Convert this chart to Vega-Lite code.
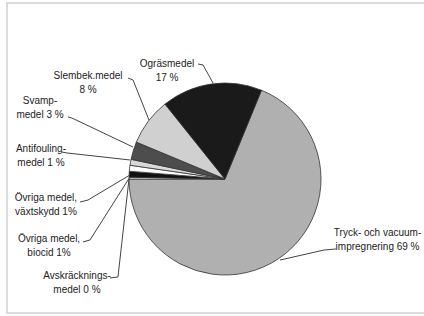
{
  "$schema": "https://vega.github.io/schema/vega-lite/v6.json",
  "width": 424,
  "height": 316,
  "padding": 0,
  "autosize": {"type": "none"},
  "background": "white",
  "view": {"stroke": null},
  "config": {"font": "Liberation Sans"},
  "datasets": {
    "slices": [
      {"idx": 1, "category": "Tryck- och vacuumimpregnering", "share": 69},
      {"idx": 2, "category": "Avskräckningsmedel", "share": 0.3},
      {"idx": 3, "category": "Övriga medel, biocid", "share": 1},
      {"idx": 4, "category": "Övriga medel, växtskydd", "share": 1},
      {"idx": 5, "category": "Antifoulingmedel", "share": 1},
      {"idx": 6, "category": "Svampmedel", "share": 3},
      {"idx": 7, "category": "Slembekämpningsmedel", "share": 8},
      {"idx": 8, "category": "Ogräsmedel", "share": 17}
    ],
    "labels": [
      {"category": "Ogräsmedel", "label": "Ogräsmedel\n17 %", "lx": -60.4, "ly": 119.8},
      {"category": "Slembekämpningsmedel", "label": "Slembek.medel\n8 %", "lx": -142.7, "ly": 107.8},
      {"category": "Svampmedel", "label": "Svamp-\nmedel 3 %", "lx": -192.7, "ly": 80.8},
      {"category": "Antifoulingmedel", "label": "Antifouling-\nmedel 1 %", "lx": -191.7, "ly": 31.3},
      {"category": "Övriga medel, växtskydd", "label": "Övriga medel,\nväxtskydd 1%", "lx": -186.5, "ly": -19.3},
      {"category": "Övriga medel, biocid", "label": "Övriga medel,\nbiocid 1%", "lx": -183.3, "ly": -62.0},
      {"category": "Avskräckningsmedel", "label": "Avskräcknings-\nmedel 0 %", "lx": -154.2, "ly": -101.5},
      {"category": "Tryck- och vacuumimpregnering", "label": "Tryck- och vacuum-\nimpregnering 69 %", "lx": 158.9, "ly": -56.2}
    ],
    "leaders": [
      {"category": "Ogräsmedel", "seq": 1, "lx": -28.1, "ly": 119.8},
      {"category": "Ogräsmedel", "seq": 2, "lx": -22.9, "ly": 118.8},
      {"category": "Ogräsmedel", "seq": 3, "lx": -12.5, "ly": 100.0},
      {"category": "Slembekämpningsmedel", "seq": 1, "lx": -101.0, "ly": 105.2},
      {"category": "Slembekämpningsmedel", "seq": 2, "lx": -95.8, "ly": 103.1},
      {"category": "Slembekämpningsmedel", "seq": 3, "lx": -79.2, "ly": 61.5},
      {"category": "Svampmedel", "seq": 1, "lx": -163.5, "ly": 64.6},
      {"category": "Svampmedel", "seq": 2, "lx": -159.4, "ly": 63.5},
      {"category": "Svampmedel", "seq": 3, "lx": -95.8, "ly": 33.3},
      {"category": "Antifoulingmedel", "seq": 1, "lx": -169.8, "ly": 28.1},
      {"category": "Antifoulingmedel", "seq": 2, "lx": -164.6, "ly": 27.1},
      {"category": "Antifoulingmedel", "seq": 3, "lx": -99.0, "ly": 19.8},
      {"category": "Övriga medel, växtskydd", "seq": 1, "lx": -151.0, "ly": -24.0},
      {"category": "Övriga medel, växtskydd", "seq": 2, "lx": -142.7, "ly": -21.9},
      {"category": "Övriga medel, växtskydd", "seq": 3, "lx": -99.0, "ly": 4.2},
      {"category": "Övriga medel, biocid", "seq": 1, "lx": -147.9, "ly": -65.6},
      {"category": "Övriga medel, biocid", "seq": 2, "lx": -140.6, "ly": -63.5},
      {"category": "Övriga medel, biocid", "seq": 3, "lx": -99.0, "ly": 2.1},
      {"category": "Avskräckningsmedel", "seq": 1, "lx": -119.8, "ly": -103.1},
      {"category": "Avskräckningsmedel", "seq": 2, "lx": -111.5, "ly": -102.1},
      {"category": "Avskräckningsmedel", "seq": 3, "lx": -100.0, "ly": 0.0},
      {"category": "Tryck- och vacuumimpregnering", "seq": 1, "lx": 115.6, "ly": -72.9},
      {"category": "Tryck- och vacuumimpregnering", "seq": 2, "lx": 103.1, "ly": -74.0},
      {"category": "Tryck- och vacuumimpregnering", "seq": 3, "lx": 57.3, "ly": -84.4}
    ],
    "frame": [{"left": -227.1, "right": 215, "top": 183.3, "bottom": -139.6}]
  },
  "layer": [
    {
      "data": {"name": "frame"},
      "mark": {"type": "rect", "fill": null, "stroke": "#cfcfcf", "strokeWidth": 1.5},
      "encoding": {
        "x": {"field": "left", "type": "quantitative", "scale": {"domain": [-234.375, 207.292], "nice": false, "zero": false}, "axis": null},
        "x2": {"field": "right"},
        "y": {"field": "top", "type": "quantitative", "scale": {"domain": [-142.708, 186.458], "nice": false, "zero": false}, "axis": null},
        "y2": {"field": "bottom"}
      }
    },
    {
      "data": {"name": "slices"},
      "mark": {"type": "arc", "radius": 96, "stroke": "#333333", "strokeWidth": 0.8},
      "encoding": {
        "x": {"datum": 0, "type": "quantitative", "scale": {"domain": [-234.375, 207.292], "nice": false, "zero": false}, "axis": null},
        "y": {"datum": 0, "type": "quantitative", "scale": {"domain": [-142.708, 186.458], "nice": false, "zero": false}, "axis": null},
        "theta": {"field": "share", "type": "quantitative", "stack": true, "scale": {"range": [0.3899, 6.6731]}},
        "order": {"field": "idx", "type": "quantitative"},
        "color": {
          "field": "category",
          "type": "nominal",
          "legend": null,
          "scale": {
            "domain": ["Tryck- och vacuumimpregnering", "Avskräckningsmedel", "Övriga medel, biocid", "Övriga medel, växtskydd", "Antifoulingmedel", "Svampmedel", "Slembekämpningsmedel", "Ogräsmedel"],
            "range": ["#b0b0b0", "#ffffff", "#111111", "#ffffff", "#d9d9d9", "#4d4d4d", "#d0d0d0", "#1a1a1a"]
          }
        }
      }
    },
    {
      "data": {"name": "leaders"},
      "mark": {"type": "line", "color": "#444444", "strokeWidth": 1},
      "encoding": {
        "x": {"field": "lx", "type": "quantitative", "scale": {"domain": [-234.375, 207.292], "nice": false, "zero": false}, "axis": null},
        "y": {"field": "ly", "type": "quantitative", "scale": {"domain": [-142.708, 186.458], "nice": false, "zero": false}, "axis": null},
        "detail": {"field": "category", "type": "nominal"},
        "order": {"field": "seq", "type": "quantitative"}
      }
    },
    {
      "data": {"name": "labels"},
      "mark": {"type": "text", "lineBreak": "\n", "lineHeight": 14, "fontSize": 10, "baseline": "middle", "align": "center", "color": "#222222"},
      "encoding": {
        "x": {"field": "lx", "type": "quantitative", "scale": {"domain": [-234.375, 207.292], "nice": false, "zero": false}, "axis": null},
        "y": {"field": "ly", "type": "quantitative", "scale": {"domain": [-142.708, 186.458], "nice": false, "zero": false}, "axis": null},
        "text": {"field": "label", "type": "nominal"}
      }
    }
  ]
}
